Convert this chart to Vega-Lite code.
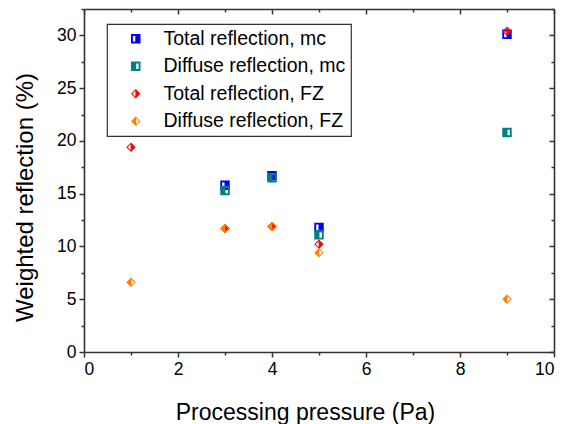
{
  "$schema": "https://vega.github.io/schema/vega-lite/v6.json",
  "width": 470,
  "height": 343,
  "autosize": "none",
  "padding": {"left": 84, "top": 9, "right": 13, "bottom": 72},
  "background": "white",
  "config": {
    "font": "Liberation Sans",
    "view": {"stroke": null},
    "axis": {"grid": false, "domainColor": "#333333", "domainWidth": 1.6, "tickColor": "#333333", "tickWidth": 1.5, "labelColor": "black", "titleColor": "black", "labelFont": "Liberation Sans", "titleFont": "Liberation Sans", "titleFontWeight": "normal", "labelFontSize": 17.5, "titleFontSize": 24},
    "legend": {"orient": "none", "legendX": 23, "legendY": 15, "strokeColor": "#333333", "strokeWidth": 1.2, "padding": 5, "symbolOffset": 14, "labelOffset": 18, "labelFontSize": 19.5, "labelFont": "Liberation Sans", "labelColor": "black", "labelLimit": 400, "rowPadding": 6.5, "symbolSize": 100, "symbolStrokeWidth": 0}
  },
  "data": {
    "values": [
      {"p": 3, "r": 15.8, "s": "Total reflection, mc"},
      {"p": 4, "r": 16.7, "s": "Total reflection, mc"},
      {"p": 5, "r": 11.8, "s": "Total reflection, mc"},
      {"p": 9, "r": 30.1, "s": "Total reflection, mc"},
      {"p": 3, "r": 15.3, "s": "Diffuse reflection, mc"},
      {"p": 4, "r": 16.5, "s": "Diffuse reflection, mc"},
      {"p": 5, "r": 11.1, "s": "Diffuse reflection, mc"},
      {"p": 9, "r": 20.8, "s": "Diffuse reflection, mc"},
      {"p": 1, "r": 19.4, "s": "Total reflection, FZ"},
      {"p": 3, "r": 11.7, "s": "Total reflection, FZ"},
      {"p": 4, "r": 11.9, "s": "Total reflection, FZ"},
      {"p": 5, "r": 10.2, "s": "Total reflection, FZ"},
      {"p": 9, "r": 30.4, "s": "Total reflection, FZ"},
      {"p": 1, "r": 6.6, "s": "Diffuse reflection, FZ"},
      {"p": 3, "r": 11.7, "s": "Diffuse reflection, FZ"},
      {"p": 4, "r": 11.9, "s": "Diffuse reflection, FZ"},
      {"p": 5, "r": 9.4, "s": "Diffuse reflection, FZ"},
      {"p": 9, "r": 5.0, "s": "Diffuse reflection, FZ"}
    ]
  },
  "resolve": {"axis": {"x": "independent", "y": "independent"}},
  "layer": [
    {
      "mark": {"type": "point", "filled": true, "opacity": 1, "strokeWidth": 0},
      "encoding": {
        "x": {"field": "p", "type": "quantitative", "scale": {"domain": [0, 10], "nice": false}, "axis": {"orient": "bottom", "values": [0, 2, 4, 6, 8, 10], "tickSize": 5, "labelPadding": 3, "title": "Processing pressure (Pa)", "titleX": 221, "titleY": 67, "titleAlign": "center", "titleBaseline": "alphabetic", "titleFontSize": 23}},
        "y": {"field": "r", "type": "quantitative", "scale": {"domain": [0, 32.5], "nice": false, "zero": false}, "axis": {"orient": "left", "values": [0, 5, 10, 15, 20, 25, 30], "tickSize": 5, "labelPadding": 3, "title": "Weighted reflection (%)", "titleX": -52, "titleY": 188, "titleAngle": -90, "titleAlign": "center", "titleBaseline": "alphabetic"}},
        "color": {"field": "s", "type": "nominal", "scale": {"domain": ["Total reflection, mc", "Diffuse reflection, mc", "Total reflection, FZ", "Diffuse reflection, FZ"], "range": ["#0000ff", "#008080", "#ff0000", "#ff8000"]}, "legend": {"title": null}},
        "shape": {"field": "s", "type": "nominal", "scale": {"domain": ["Total reflection, mc", "Diffuse reflection, mc", "Total reflection, FZ", "Diffuse reflection, FZ"], "range": [
          "M-1,-1L1,-1L1,1L-1,1Z M-0.6,-0.6L-0.6,0.6L-0.1,0.6L-0.1,-0.6Z",
          "M-1,-1L1,-1L1,1L-1,1Z M0.1,-0.6L0.1,0.6L0.6,0.6L0.6,-0.6Z",
          "M0,-1L1,0L0,1L-1,0Z M-0.08,-0.62L-0.7,0L-0.08,0.62Z",
          "M0,-1L1,0L0,1L-1,0Z M0.08,-0.62L0.08,0.62L0.7,0Z"
        ]}, "legend": {"title": null}},
        "size": {"field": "s", "type": "nominal", "scale": {"domain": ["Total reflection, mc", "Diffuse reflection, mc", "Total reflection, FZ", "Diffuse reflection, FZ"], "range": [90, 90, 165, 165]}, "legend": null}
      }
    },
    {
      "mark": {"type": "point", "opacity": 0},
      "encoding": {
        "x": {"field": "p", "type": "quantitative", "axis": {"orient": "bottom", "values": [1, 3, 5, 7, 9], "tickSize": 3, "labels": false, "domain": false, "title": null}},
        "y": {"field": "r", "type": "quantitative", "axis": {"orient": "left", "values": [2.5, 7.5, 12.5, 17.5, 22.5, 27.5, 32.5], "tickSize": 3, "labels": false, "domain": false, "title": null}}
      }
    },
    {
      "mark": {"type": "point", "opacity": 0},
      "encoding": {
        "x": {"field": "p", "type": "quantitative", "axis": {"orient": "top", "values": [0, 2, 4, 6, 8, 10], "tickSize": -5, "labels": false, "title": null}},
        "y": {"field": "r", "type": "quantitative", "axis": {"orient": "right", "values": [0, 5, 10, 15, 20, 25, 30], "tickSize": -5, "labels": false, "title": null}}
      }
    },
    {
      "mark": {"type": "point", "opacity": 0},
      "encoding": {
        "x": {"field": "p", "type": "quantitative", "axis": {"orient": "top", "values": [1, 3, 5, 7, 9], "tickSize": -3, "labels": false, "domain": false, "title": null}},
        "y": {"field": "r", "type": "quantitative", "axis": {"orient": "right", "values": [2.5, 7.5, 12.5, 17.5, 22.5, 27.5, 32.5], "tickSize": -3, "labels": false, "domain": false, "title": null}}
      }
    }
  ]
}
